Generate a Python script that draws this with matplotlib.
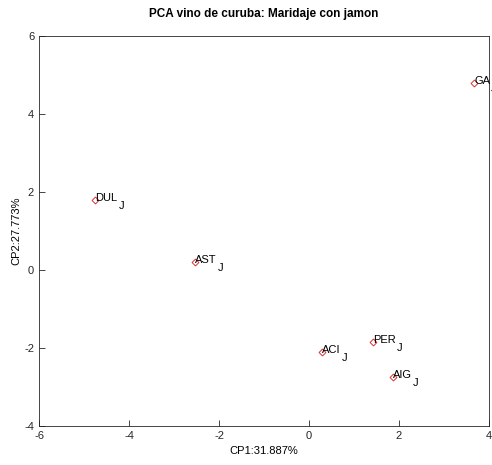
import matplotlib
matplotlib.use("Agg")
import matplotlib.pyplot as plt
from matplotlib.transforms import offset_copy

# scores on the first two principal components
names = ["DUL", "AST", "ACI", "PER", "AIG", "GA"]
cp1 = [-4.75, -2.53, 0.29, 1.42, 1.87, 3.67]
cp2 = [1.80, 0.20, -2.10, -1.85, -2.75, 4.80]
suffix = "J"

plt.rcParams['font.family'] = ['Liberation Sans', 'DejaVu Sans']
plt.rcParams['axes.unicode_minus'] = False

fig = plt.figure(figsize=(4.92, 4.65), dpi=100)
ax = fig.add_axes([0.0793, 0.0839, 0.9146, 0.8387])

ax.plot(cp1, cp2, linestyle='none', marker='D', markersize=3.5,
        markerfacecolor='none', markeredgecolor='#e03030', markeredgewidth=0.7)

ax.set_xlim(-6, 4)
ax.set_ylim(-4, 6)

labels = []
for n, x, y in zip(names, cp1, cp2):
    t = ax.text(x, y, n, fontsize=8, ha='left', va='center', clip_on=False,
                transform=offset_copy(ax.transData, fig=fig, x=0, y=2, units='dots'))
    labels.append(t)

fig.canvas.draw()
inv = ax.transData.inverted()
for t, x, y in zip(labels, cp1, cp2):
    bb = t.get_window_extent()
    xd, yd = ax.transData.transform((x, y))
    ax.text(*inv.transform((bb.x1 + 1, yd - 6)), suffix, fontsize=8,
            ha='left', va='center', clip_on=False)

ax.set_xticks([-6, -4, -2, 0, 2, 4])
ax.set_yticks([-4, -2, 0, 2, 4, 6])
ax.tick_params(direction='in', length=4, width=0.6, colors='#262626', labelsize=8,
               top=False, right=False)
for s in ax.spines.values():
    s.set_color('#262626')
    s.set_linewidth(0.6)

ax.set_xlabel("CP1:31.887%", fontsize=8, labelpad=4)
ax.set_ylabel("CP2:27.773%", fontsize=8, labelpad=2)
ax.set_title("PCA vino de curuba: Maridaje con jamon", fontsize=8.5,
             fontweight='bold', pad=14)

fig.savefig("out.png", dpi=100)
